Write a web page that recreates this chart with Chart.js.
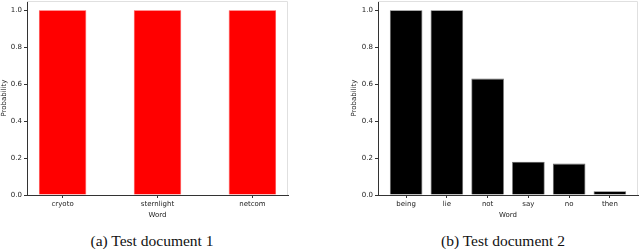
<!DOCTYPE html>
<html>
<head>
<meta charset="utf-8">
<script src="https://cdn.jsdelivr.net/npm/chart.js@4"></script>
<style>
  body { margin: 0; width: 640px; height: 249px; background: #fff; position: relative; overflow: hidden; }
  canvas { position: absolute; top: 0; }
  #chartA { left: 0; }
  #chartB { left: 350px; }
  .caption { position: absolute; top: 232px; font-family: "Liberation Serif", serif; font-size: 15.5px; color: #111; white-space: nowrap; transform: translateX(-50%); }
</style>
</head>
<body>
<canvas id="chartA" width="292" height="222"></canvas>
<canvas id="chartB" width="290" height="222"></canvas>
<div class="caption" style="left:152px">(a) Test document 1</div>
<div class="caption" style="left:503px">(b) Test document 2</div>
<script>
// Data
const wordsA = ['cryoto', 'sternlight', 'netcom'];
const probsA = [1.0, 1.0, 1.0];
const wordsB = ['being', 'lie', 'not', 'say', 'no', 'then'];
const probsB = [1.0, 1.0, 0.63, 0.18, 0.17, 0.02];
const yTicks = [0, 0.2, 0.4, 0.6, 0.8, 1.0];

const tickFont = { family: 'DejaVu Sans', size: 7 };

// light gray top/right frame like matplotlib spines
const frame = {
    id: 'frame',
    afterDraw(chart) {
        const a = chart.chartArea;
        const ctx = chart.ctx;
        ctx.save();
        ctx.strokeStyle = '#e0e0e0';
        ctx.lineWidth = 1;
        ctx.beginPath();
        ctx.moveTo(a.left, a.top + 0.5);
        ctx.lineTo(a.right - 0.5, a.top + 0.5);
        ctx.lineTo(a.right - 0.5, a.bottom);
        ctx.stroke();
        ctx.restore();
    }
};

function buildChart(id, words, probs, color, edge, barPct, yWidth, padRight) {
    const n = words.length;
    const margin = ((n - 1) + barPct) * 0.05;
    new Chart(document.getElementById(id), {
        type: 'bar',
        data: {
            datasets: [{
                data: probs.map((p, i) => ({ x: i, y: p })),
                backgroundColor: color,
                borderColor: edge,
                borderWidth: 0.8,
                categoryPercentage: 1,
                barPercentage: barPct
            }]
        },
        options: {
            responsive: false,
            animation: false,
            layout: { padding: { top: 1, right: padRight, left: 0, bottom: 0 } },
            plugins: { legend: { display: false }, tooltip: { enabled: false } },
            scales: {
                x: {
                    type: 'linear',
                    offset: false,
                    min: -barPct / 2 - margin,
                    max: (n - 1) + barPct / 2 + margin,
                    afterBuildTicks: s => { s.ticks = words.map((w, i) => ({ value: i })); },
                    afterFit: s => { s.height = 27; s.paddingLeft = 0; s.paddingRight = 0; },
                    ticks: {
                        callback: (v) => words[v],
                        font: tickFont,
                        color: '#222',
                        padding: 2,
                        maxRotation: 0,
                        autoSkip: false
                    },
                    grid: { display: true, offset: false, drawOnChartArea: false, drawTicks: true, tickLength: 3, color: '#333' },
                    border: { display: true, color: '#333', width: 1 },
                    title: { display: true, text: 'Word', font: tickFont, color: '#222', padding: { top: 0, bottom: 3 } }
                },
                y: {
                    min: 0,
                    max: 1.05,
                    afterBuildTicks: s => { s.ticks = yTicks.map(v => ({ value: v })); },
                    afterFit: s => { s.width = yWidth; s.paddingTop = 0; s.paddingBottom = 0; },
                    ticks: {
                        callback: (v) => v.toFixed(1),
                        font: tickFont,
                        color: '#222',
                        padding: 2
                    },
                    grid: { display: true, drawOnChartArea: false, drawTicks: true, tickLength: 3, color: '#333' },
                    border: { display: true, color: '#333', width: 1 },
                    title: { display: true, text: 'Probability', font: tickFont, color: '#222', padding: 0 }
                }
            }
        },
        plugins: [frame]
    });
}

buildChart('chartA', wordsA, probsA, '#ff0000', '#ff4040', 0.5, 27, 4);
buildChart('chartB', wordsB, probsB, '#000000', '#666666', 0.8, 28, 2);
</script>
</body>
</html>
